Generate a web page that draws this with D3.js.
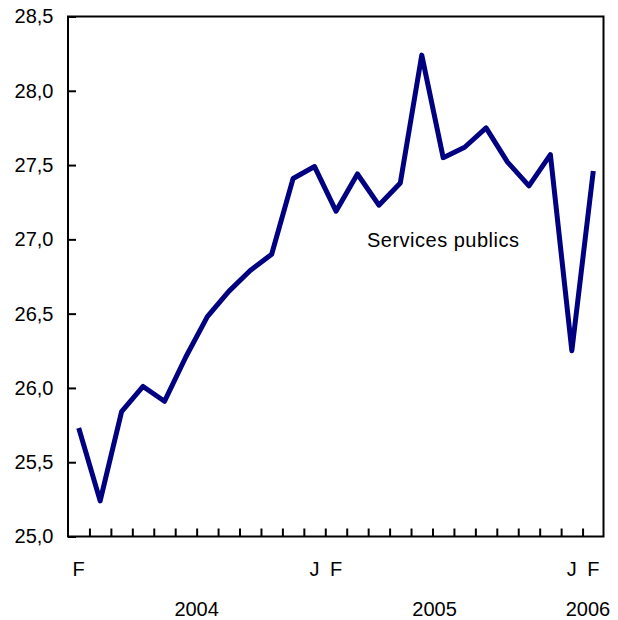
<!DOCTYPE html>
<html lang="fr">

<head>
    <meta charset="UTF-8">
    <title>Services publics</title>
    <script src="https://d3js.org/d3.v7.min.js"></script>
    <style>
        body { margin: 0; background: #fff; }
        svg text { font-family: "Liberation Sans", Arial, Helvetica, sans-serif; fill: #000; }
    </style>
</head>

<body>
    <script>
        // months, Feb 2004 to Feb 2006
        var months = ["2004-02", "2004-03", "2004-04", "2004-05", "2004-06", "2004-07", "2004-08",
            "2004-09", "2004-10", "2004-11", "2004-12", "2005-01", "2005-02", "2005-03", "2005-04",
            "2005-05", "2005-06", "2005-07", "2005-08", "2005-09", "2005-10", "2005-11", "2005-12",
            "2006-01", "2006-02"];
        var values = [25.73, 25.24, 25.84, 26.01, 25.91, 26.21, 26.48, 26.65, 26.79, 26.90,
            27.41, 27.49, 27.19, 27.44, 27.23, 27.38, 28.24, 27.55, 27.62, 27.75,
            27.52, 27.36, 27.57, 26.25, 27.46];
        var seriesName = "Services publics";

        var yTicks = [25.0, 25.5, 26.0, 26.5, 27.0, 27.5, 28.0, 28.5];
        var shownMonths = ["2004-02", "2005-01", "2005-02", "2006-01", "2006-02"];
        var shownLetters = ["F", "J", "F", "J", "F"];
        var years = ["2004", "2005", "2006"];
        var yearAt = [6, 17.1, 24.25]; // in months from the left edge

        var width = 618, height = 620;
        // plot box (don't call these top/left: window.top is read-only)
        var plotLeft = 68, plotRight = 604, plotTop = 16.5, plotBottom = 536.5;

        var svg = d3.select("body")
            .append("svg")
            .attr("width", width)
            .attr("height", height);

        var x = d3.scaleBand()
            .domain(months)
            .range([plotLeft, plotRight])
            .paddingInner(0)
            .paddingOuter(0);

        // same range, counted in months, for the tick marks between months
        var xm = d3.scaleLinear()
            .domain([0, months.length])
            .range([plotLeft, plotRight]);

        var y = d3.scaleLinear()
            .domain([25, 28.5])
            .range([plotBottom, plotTop]);

        // y axis
        var yAxis = svg.append("g")
            .attr("transform", "translate(" + plotLeft + ",0)")
            .call(d3.axisLeft(y)
                .tickValues(yTicks)
                .tickSize(-8)
                .tickPadding(14.5)
                .tickFormat(function (d) { return d.toFixed(1).replace(".", ","); }));
        yAxis.select(".domain").remove();
        yAxis.selectAll("line").attr("stroke", "#000").attr("stroke-width", 2);
        yAxis.selectAll("text").attr("font-size", 20).attr("font-family", null);

        // month tick marks
        var xTicks = svg.append("g")
            .attr("transform", "translate(0," + plotBottom + ")")
            .call(d3.axisBottom(xm)
                .tickValues(d3.range(1, months.length))
                .tickSize(-8)
                .tickFormat(""));
        xTicks.select(".domain").remove();
        xTicks.selectAll("line").attr("stroke", "#000").attr("stroke-width", 2);

        // month letters
        var xLabels = svg.append("g")
            .attr("transform", "translate(0," + plotBottom + ")")
            .call(d3.axisBottom(x)
                .tickValues(shownMonths)
                .tickSize(0)
                .tickPadding(25.5)
                .tickFormat(function (d) { return shownLetters[shownMonths.indexOf(d)]; }));
        xLabels.select(".domain").remove();
        xLabels.selectAll("text").attr("font-size", 20).attr("font-family", null);

        // years
        svg.append("g")
            .selectAll("text")
            .data(years)
            .join("text")
            .attr("x", function (d, i) { return xm(yearAt[i]); })
            .attr("y", 616)
            .attr("text-anchor", "middle")
            .attr("font-size", 20)
            .text(function (d) { return d; });

        // frame
        svg.append("rect")
            .attr("x", plotLeft)
            .attr("y", plotTop)
            .attr("width", plotRight - plotLeft - 0.5)
            .attr("height", plotBottom - plotTop)
            .attr("fill", "none")
            .attr("stroke", "#000")
            .attr("stroke-width", 2);

        var line = d3.line()
            .x(function (d, i) { return x(months[i]) + x.bandwidth() / 2; })
            .y(function (d) { return y(d); });

        svg.append("path")
            .datum(values)
            .attr("d", line)
            .attr("fill", "none")
            .attr("stroke", "#000080")
            .attr("stroke-width", 5)
            .attr("stroke-linejoin", "round")
            .attr("stroke-linecap", "butt");

        svg.append("text")
            .attr("x", 367)
            .attr("y", 247)
            .attr("font-size", 20)
            .attr("letter-spacing", 0.5)
            .text(seriesName);
    </script>
</body>

</html>
